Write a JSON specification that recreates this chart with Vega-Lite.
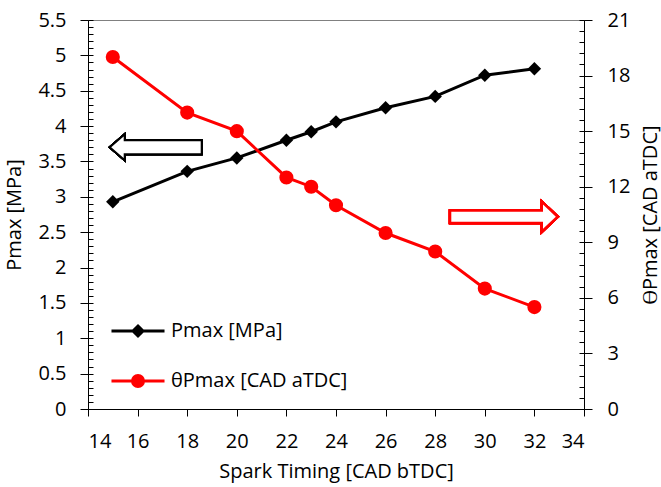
{
  "$schema": "https://vega.github.io/schema/vega-lite/v6.json",
  "width": 496,
  "height": 389,
  "autosize": {"type": "none"},
  "padding": {"left": 88, "top": 20, "right": 77, "bottom": 78},
  "background": "white",
  "config": {
    "view": {"stroke": "#808080", "strokeWidth": 1},
    "font": "Open Sans",
    "axis": {"grid": false}
  },
  "datasets": {
    "main": [
      {"st": 15, "pmax": 2.93, "theta": 19.0},
      {"st": 18, "pmax": 3.36, "theta": 16.0},
      {"st": 20, "pmax": 3.55, "theta": 15.0},
      {"st": 22, "pmax": 3.80, "theta": 12.5},
      {"st": 23, "pmax": 3.92, "theta": 12.0},
      {"st": 24, "pmax": 4.06, "theta": 11.0},
      {"st": 26, "pmax": 4.26, "theta": 9.5},
      {"st": 28, "pmax": 4.42, "theta": 8.5},
      {"st": 30, "pmax": 4.72, "theta": 6.5},
      {"st": 32, "pmax": 4.81, "theta": 5.5}
    ],
    "series": [
      {"series": "Pmax [MPa]"},
      {"series": "θPmax [CAD aTDC]"}
    ]
  },
  "data": {"name": "main"},
  "resolve": {"scale": {"y": "independent"}, "axis": {"y": "independent"}},
  "layer": [
    {
      "mark": {"type": "line", "color": "black", "strokeWidth": 3},
      "encoding": {
        "x": {"field": "st", "type": "quantitative", "scale": {"domain": [14, 34], "nice": false, "zero": false},
          "axis": {"values": [14,16,18,20,22,24,26,28,30,32,34], "format": "~g", "title": "Spark Timing [CAD bTDC]", "domainColor": "black", "domainWidth": 1, "tickColor": "black", "tickSize": 7, "labelFont": "Open Sans", "labelFontSize": 20, "labelColor": "black", "labelPadding": 15, "titleFont": "Open Sans", "titleFontSize": 20, "titleFontWeight": "normal", "titleColor": "black", "titleY": 62, "titleBaseline": "middle"}},
        "y": {"field": "pmax", "type": "quantitative", "scale": {"domain": [0, 5.5], "nice": false, "zero": true},
          "axis": {"orient": "left", "values": [0,0.5,1,1.5,2,2.5,3,3.5,4,4.5,5,5.5], "format": "~g", "title": "Pmax [MPa]", "domainColor": "black", "domainWidth": 1, "tickColor": "black", "tickSize": 8, "labelFont": "Open Sans", "labelFontSize": 20, "labelColor": "black", "labelPadding": 14, "titleFont": "Open Sans", "titleFontSize": 20, "titleFontWeight": "normal", "titleColor": "black", "titleAngle": -90, "titleX": -74, "titleY": 194.5, "titleBaseline": "middle", "titleAlign": "center"}}
      }
    },
    {
      "mark": {"type": "point", "shape": "diamond", "filled": true, "color": "black", "size": 180, "opacity": 1},
      "encoding": {
        "x": {"field": "st", "type": "quantitative", "scale": {"domain": [14, 34], "nice": false, "zero": false},
          "axis": {"values": [14,16,18,20,22,24,26,28,30,32,34], "format": "~g", "title": "Spark Timing [CAD bTDC]", "domainColor": "black", "domainWidth": 1, "tickColor": "black", "tickSize": 7, "labelFont": "Open Sans", "labelFontSize": 20, "labelColor": "black", "labelPadding": 15, "titleFont": "Open Sans", "titleFontSize": 20, "titleFontWeight": "normal", "titleColor": "black", "titleY": 62, "titleBaseline": "middle"}},
        "y": {"field": "pmax", "type": "quantitative", "scale": {"domain": [0, 5.5], "nice": false, "zero": true},
          "axis": {"orient": "left", "values": [0,0.1,0.2,0.3,0.4,0.5,0.6,0.7,0.8,0.9,1,1.1,1.2,1.3,1.4,1.5,1.6,1.7,1.8,1.9,2,2.1,2.2,2.3,2.4,2.5,2.6,2.7,2.8,2.9,3,3.1,3.2,3.3,3.4,3.5,3.6,3.7,3.8,3.9,4,4.1,4.2,4.3,4.4,4.5,4.6,4.7,4.8,4.9,5,5.1,5.2,5.3,5.4,5.5], "labels": false, "domain": false, "title": null, "tickColor": "black", "tickSize": -5}}
      }
    },
    {
      "mark": {"type": "line", "color": "#FF0000", "strokeWidth": 3},
      "encoding": {
        "x": {"field": "st", "type": "quantitative", "scale": {"domain": [14, 34], "nice": false, "zero": false},
          "axis": {"values": [14,16,18,20,22,24,26,28,30,32,34], "format": "~g", "title": "Spark Timing [CAD bTDC]", "domainColor": "black", "domainWidth": 1, "tickColor": "black", "tickSize": 7, "labelFont": "Open Sans", "labelFontSize": 20, "labelColor": "black", "labelPadding": 15, "titleFont": "Open Sans", "titleFontSize": 20, "titleFontWeight": "normal", "titleColor": "black", "titleY": 62, "titleBaseline": "middle"}},
        "y": {"field": "theta", "type": "quantitative", "scale": {"domain": [0, 21], "nice": false, "zero": true},
          "axis": {"orient": "right", "values": [0,3,6,9,12,15,18,21], "format": "~g", "title": "ϴPmax [CAD aTDC]", "domainColor": "black", "domainWidth": 1, "tickColor": "black", "tickSize": 8, "labelFont": "Open Sans", "labelFontSize": 20, "labelColor": "black", "labelPadding": 15, "titleFont": "Open Sans", "titleFontSize": 20, "titleFontWeight": "normal", "titleColor": "black", "titleAngle": -90, "titleX": 66, "titleY": 194.5, "titleBaseline": "middle", "titleAlign": "center"}}
      }
    },
    {
      "mark": {"type": "point", "shape": "circle", "filled": true, "color": "#FF0000", "size": 200, "opacity": 1},
      "encoding": {
        "x": {"field": "st", "type": "quantitative", "scale": {"domain": [14, 34], "nice": false, "zero": false},
          "axis": {"values": [14,16,18,20,22,24,26,28,30,32,34], "format": "~g", "title": "Spark Timing [CAD bTDC]", "domainColor": "black", "domainWidth": 1, "tickColor": "black", "tickSize": 7, "labelFont": "Open Sans", "labelFontSize": 20, "labelColor": "black", "labelPadding": 15, "titleFont": "Open Sans", "titleFontSize": 20, "titleFontWeight": "normal", "titleColor": "black", "titleY": 62, "titleBaseline": "middle"}},
        "y": {"field": "theta", "type": "quantitative", "scale": {"domain": [0, 21], "nice": false, "zero": true},
          "axis": {"orient": "right", "values": [0,0.6,1.2,1.8,2.4,3,3.6,4.2,4.8,5.4,6,6.6,7.2,7.8,8.4,9,9.6,10.2,10.8,11.4,12,12.6,13.2,13.8,14.4,15,15.6,16.2,16.8,17.4,18,18.6,19.2,19.8,20.4,21], "labels": false, "domain": false, "title": null, "tickColor": "black", "tickSize": -5}}
      }
    },
    {
      "mark": {"type": "point", "filled": false, "fill": "white", "fillOpacity": 1, "stroke": "black", "strokeWidth": 2, "opacity": 1, "strokeJoin": "miter",
        "shape": "M-1,0L-0.674,-0.283L-0.674,-0.152L1,-0.152L1,0.152L-0.674,0.152L-0.674,0.283Z", "size": 8464},
      "encoding": {
        "x": {"datum": 16.73, "type": "quantitative", "scale": {"domain": [14, 34], "nice": false, "zero": false},
          "axis": {"values": [14,16,18,20,22,24,26,28,30,32,34], "format": "~g", "title": "Spark Timing [CAD bTDC]", "domainColor": "black", "domainWidth": 1, "tickColor": "black", "tickSize": 7, "labelFont": "Open Sans", "labelFontSize": 20, "labelColor": "black", "labelPadding": 15, "titleFont": "Open Sans", "titleFontSize": 20, "titleFontWeight": "normal", "titleColor": "black", "titleY": 62, "titleBaseline": "middle"}},
        "y": {"datum": 3.7, "type": "quantitative", "scale": {"domain": [0, 5.5], "nice": false, "zero": true}, "axis": null}
      }
    },
    {
      "mark": {"type": "point", "filled": false, "fill": "white", "fillOpacity": 1, "stroke": "#FF0000", "strokeWidth": 2.5, "opacity": 1, "strokeJoin": "miter",
        "shape": "M1,0L0.703,-0.279L0.703,-0.117L-1,-0.117L-1,0.117L0.703,0.117L0.703,0.279Z", "size": 11600},
      "encoding": {
        "x": {"datum": 30.77, "type": "quantitative", "scale": {"domain": [14, 34], "nice": false, "zero": false},
          "axis": {"values": [14,16,18,20,22,24,26,28,30,32,34], "format": "~g", "title": "Spark Timing [CAD bTDC]", "domainColor": "black", "domainWidth": 1, "tickColor": "black", "tickSize": 7, "labelFont": "Open Sans", "labelFontSize": 20, "labelColor": "black", "labelPadding": 15, "titleFont": "Open Sans", "titleFontSize": 20, "titleFontWeight": "normal", "titleColor": "black", "titleY": 62, "titleBaseline": "middle"}},
        "y": {"datum": 10.38, "type": "quantitative", "scale": {"domain": [0, 21], "nice": false, "zero": true}, "axis": null}
      }
    },
    {
      "data": {"name": "series"},
      "transform": [{"filter": "false"}],
      "mark": {"type": "point", "filled": true, "size": 144, "opacity": 1, "strokeWidth": 3},
      "encoding": {
        "fill": {"field": "series", "type": "nominal",
          "scale": {"domain": ["Pmax [MPa]", "θPmax [CAD aTDC]"], "range": ["black", "#FF0000"]},
          "legend": {"orient": "none", "legendX": 40, "legendY": 301, "title": null, "padding": 0,
            "labelFont": "Open Sans", "labelFontSize": 20, "labelColor": "black", "labelOffset": 23, "labelLimit": 400,
            "rowPadding": 27, "symbolSize": 144, "symbolStrokeWidth": 3}},
        "stroke": {"field": "series", "type": "nominal",
          "scale": {"domain": ["Pmax [MPa]", "θPmax [CAD aTDC]"], "range": ["black", "#FF0000"]},
          "legend": {"orient": "none", "legendX": 40, "legendY": 301, "title": null, "padding": 0,
            "labelFont": "Open Sans", "labelFontSize": 20, "labelColor": "black", "labelOffset": 23, "labelLimit": 400,
            "rowPadding": 27, "symbolSize": 144, "symbolStrokeWidth": 3}},
        "shape": {"field": "series", "type": "nominal",
          "scale": {"domain": ["Pmax [MPa]", "θPmax [CAD aTDC]"],
            "range": ["M-4.42,0H4.42M0,-0.83L0.83,0L0,0.83L-0.83,0Z", "M-4.42,0H4.42M-0.92,0A0.92,0.92,0,1,0,0.92,0A0.92,0.92,0,1,0,-0.92,0Z"]},
          "legend": {"orient": "none", "legendX": 40, "legendY": 301, "title": null, "padding": 0,
            "labelFont": "Open Sans", "labelFontSize": 20, "labelColor": "black", "labelOffset": 23, "labelLimit": 400,
            "rowPadding": 27, "symbolSize": 144, "symbolStrokeWidth": 3}}
      }
    }
  ]
}
